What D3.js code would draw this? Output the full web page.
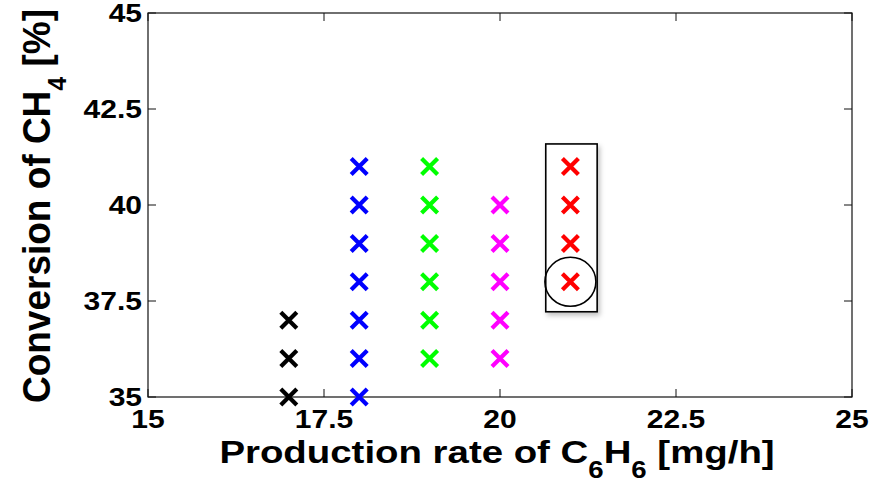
<!doctype html>
<html>
<head>
<meta charset="utf-8">
<script src="https://d3js.org/d3.v7.min.js"></script>
<style>
  body { margin: 0; background: #fff; }
  svg text { font-family: "Liberation Sans", Arial, sans-serif; font-weight: bold; fill: #000; }
</style>
</head>
<body>
<svg width="877" height="481"></svg>
<script>
// data
var rates = [17, 18, 19, 20, 21];
var blackConv = [35, 36, 37];
var blueConv = [35, 36, 37, 38, 39, 40, 41];
var greenConv = [36, 37, 38, 39, 40, 41];
var magentaConv = [36, 37, 38, 39, 40];
var redConv = [38, 39, 40, 41];
var seriesColors = ["#000000", "#0000ff", "#00ff00", "#ff00ff", "#ff0000"];
var xTicks = [15, 17.5, 20, 22.5, 25];
var yTicks = [35, 37.5, 40, 42.5, 45];
var boxRange = {x: [20.65, 21.38], y: [37.22, 41.59]};
var circled = {x: 21, y: 38};

var series = [blackConv, blueConv, greenConv, magentaConv, redConv];
var points = [];
series.forEach(function(vals, i) {
    vals.forEach(function(v) { points.push({x: rates[i], y: v, c: seriesColors[i]}); });
});

var svg = d3.select("svg");
var pl = 148, pr = 852, pt = 13, pb = 397;
var stretch = 1.2;   // the text in the picture is wider than tall

var x = d3.scaleLinear().domain([15, 25]).range([pl, pr]);
var y = d3.scaleLinear().domain([35, 45]).range([pb, pt]);

// box
svg.append("rect")
    .attr("x", pl).attr("y", pt)
    .attr("width", pr - pl).attr("height", pb - pt)
    .attr("fill", "none").attr("stroke", "#111").attr("stroke-width", 1.2);

var tl = 8;
svg.append("g").selectAll("line").data(xTicks).enter().append("line")
    .attr("x1", function(d) { return x(d); }).attr("x2", function(d) { return x(d); })
    .attr("y1", pb).attr("y2", pb - tl).attr("stroke", "#111");
svg.append("g").selectAll("line").data(xTicks).enter().append("line")
    .attr("x1", function(d) { return x(d); }).attr("x2", function(d) { return x(d); })
    .attr("y1", pt).attr("y2", pt + tl).attr("stroke", "#111");
svg.append("g").selectAll("line").data(yTicks).enter().append("line")
    .attr("y1", function(d) { return y(d); }).attr("y2", function(d) { return y(d); })
    .attr("x1", pl).attr("x2", pl + tl).attr("stroke", "#111");
svg.append("g").selectAll("line").data(yTicks).enter().append("line")
    .attr("y1", function(d) { return y(d); }).attr("y2", function(d) { return y(d); })
    .attr("x1", pr).attr("x2", pr - tl).attr("stroke", "#111");

// tick labels
svg.append("g").selectAll("text").data(xTicks).enter().append("text")
    .attr("transform", function(d) { return "translate(" + x(d) + ",428) scale(" + stretch + ",1)"; })
    .attr("text-anchor", "middle")
    .style("font-size", "25px")
    .text(function(d) { return d; });
svg.append("g").selectAll("text").data(yTicks).enter().append("text")
    .attr("transform", function(d) { return "translate(142," + (y(d) + 9) + ") scale(" + stretch + ",1)"; })
    .attr("text-anchor", "end")
    .style("font-size", "25px")
    .text(function(d) { return d; });

// axis titles
var xl = svg.append("text")
    .attr("transform", "translate(497,463) scale(" + stretch + ",1)")
    .attr("text-anchor", "middle")
    .style("font-size", "32px");
xl.append("tspan").text("Production rate of C");
xl.append("tspan").attr("dy", 15).style("font-size", "23px").text("6");
xl.append("tspan").attr("dy", -15).text("H");
xl.append("tspan").attr("dy", 15).style("font-size", "23px").text("6");
xl.append("tspan").attr("dy", -15).text(" [mg/h]");

var yl = svg.append("text")
    .attr("transform", "translate(50,206) scale(1.04,1) rotate(-90)")
    .attr("text-anchor", "middle")
    .style("font-size", "37px");
yl.append("tspan").text("Conversion of CH");
yl.append("tspan").attr("dy", 15).style("font-size", "25px").text("4");
yl.append("tspan").attr("dy", -15).text(" [%]");

// highlight box with soft shadow
var defs = svg.append("defs");
var f = defs.append("filter").attr("id", "sh").attr("x", "-30%").attr("y", "-30%").attr("width", "160%").attr("height", "160%");
f.append("feDropShadow").attr("dx", 2).attr("dy", 3).attr("stdDeviation", 2.5)
    .attr("flood-color", "#000").attr("flood-opacity", 0.25);

svg.append("rect")
    .attr("x", x(boxRange.x[0])).attr("y", y(boxRange.y[1]))
    .attr("width", x(boxRange.x[1]) - x(boxRange.x[0]))
    .attr("height", y(boxRange.y[0]) - y(boxRange.y[1]))
    .attr("fill", "#fff").attr("stroke", "#000").attr("stroke-width", 1.6)
    .attr("filter", "url(#sh)");

svg.append("ellipse")
    .attr("cx", x(circled.x)).attr("cy", y(circled.y))
    .attr("rx", 25.5).attr("ry", 24.5)
    .attr("fill", "none").attr("stroke", "#000").attr("stroke-width", 1.6);

// markers
var s = 8;
svg.append("g").selectAll("path").data(points).enter().append("path")
    .attr("d", function(d) {
        var cx = x(d.x), cy = y(d.y);
        return "M" + (cx - s) + "," + (cy - s) + "L" + (cx + s) + "," + (cy + s) +
               "M" + (cx - s) + "," + (cy + s) + "L" + (cx + s) + "," + (cy - s);
    })
    .attr("stroke", function(d) { return d.c; })
    .attr("stroke-width", 4.2)
    .attr("fill", "none");
</script>
</body>
</html>
